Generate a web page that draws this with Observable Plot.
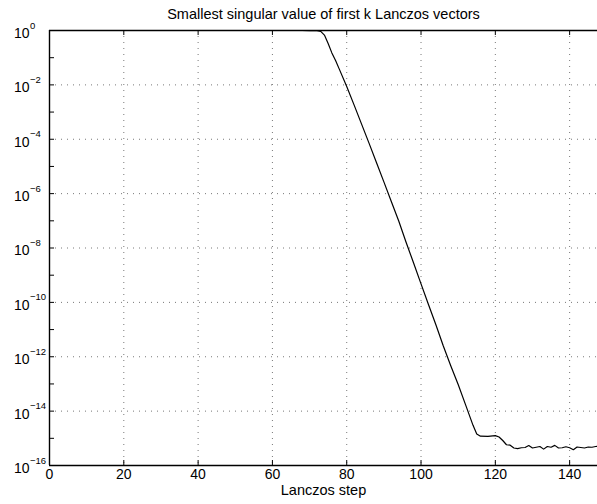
<!DOCTYPE html>
<html>
<head>
<meta charset="utf-8">
<script src="https://cdn.jsdelivr.net/npm/d3@7"></script>
<script src="https://cdn.jsdelivr.net/npm/@observablehq/plot@0.6"></script>
<style>
  html, body { margin: 0; padding: 0; background: #fff; }
</style>
</head>
<body>
<div id="chart"></div>
<script>
// Lanczos step k
const steps = [1, 68, 70, 72, 73, 74, 75, 76, 77, 78, 80, 82, 84, 86, 88, 90, 92, 94, 96, 98,
  100, 102, 104, 106, 108, 110, 112, 114, 115, 116, 118, 120, 121, 122, 123, 124, 125, 126,
  127, 128, 129, 130, 131, 132, 133, 134, 135, 136, 137, 138, 139, 140, 141, 142, 143, 144,
  145, 146, 147, 148, 149, 150];

// smallest singular value of the first k Lanczos vectors
const sigmaMin = [1, 1, 0.99, 0.98, 0.93, 0.68, 0.33, 0.15, 7.9e-2, 3.8e-2, 8.7e-3, 1.8e-3,
  3.6e-4, 7.2e-5, 1.4e-5, 2.7e-6, 5.1e-7, 9.8e-8, 1.6e-8, 2.8e-9,
  4.8e-10, 8.3e-11, 1.5e-11, 2.5e-12, 4.7e-13, 9.5e-14, 1.7e-14, 3.0e-15, 1.45e-15, 1.2e-15,
  1.17e-15, 1.26e-15, 1.12e-15, 8.3e-16, 5.8e-16, 5.6e-16, 4.4e-16, 4.2e-16,
  4.5e-16, 4.6e-16, 5.4e-16, 4.4e-16, 4.7e-16, 5.0e-16, 4.0e-16, 5.0e-16, 4.7e-16, 5.5e-16,
  4.4e-16, 4.5e-16, 4.9e-16, 4.5e-16, 3.8e-16, 4.8e-16, 4.6e-16, 4.4e-16,
  4.8e-16, 4.7e-16, 5.0e-16, 5.2e-16, 5.0e-16, 5.0e-16];

const xTicks = [0, 20, 40, 60, 80, 100, 120, 140];
const yTickExponents = [0, -2, -4, -6, -8, -10, -12, -14, -16];
const yDecadeExponents = d3.range(-15, 0);

const data = steps.map((k, i) => ({k, s: sigmaMin[i]}));
const yTicks = yTickExponents.map(e => ({e, v: Math.pow(10, e)}));
const decades = yDecadeExponents.map(e => Math.pow(10, e));

const W = 597, H = 504;
const mL = 49, mT = 30, mB = 39, mR = 0;
const frameW = W - mL - mR, frameH = H - mT - mB;
const tickLen = 5;
const gridStyle = {stroke: "#555", strokeWidth: 0.8, strokeDasharray: "1,5"};

const chart = Plot.plot({
  width: W,
  height: H,
  marginLeft: mL,
  marginRight: mR,
  marginTop: mT,
  marginBottom: mB,
  style: {fontFamily: "'Liberation Sans', Arial, Helvetica, sans-serif", fontSize: "14px", background: "#fff", color: "#000"},
  x: {domain: [0, 147.5], axis: null},
  y: {type: "log", domain: [1e-16, 1], axis: null},
  marks: [
    // dotted grid
    Plot.ruleX(xTicks.filter(d => d > 0), {x: d => d, ...gridStyle}),
    Plot.ruleY(yTicks.filter(d => d.e < 0 && d.e > -16), {y: "v", ...gridStyle}),
    // data line
    Plot.line(data, {x: "k", y: "s", stroke: "#000", strokeWidth: 1.2}),
    // axis lines (left, bottom, top)
    Plot.ruleX([0], {stroke: "#000", strokeWidth: 1.4}),
    Plot.ruleY([1e-16, 1], {stroke: "#000", strokeWidth: 1.4}),
    // inward ticks
    Plot.ruleX(xTicks, {x: d => d, insetTop: frameH - tickLen, stroke: "#000", strokeWidth: 1}),
    Plot.ruleX(xTicks, {x: d => d, insetBottom: frameH - tickLen, stroke: "#000", strokeWidth: 1}),
    Plot.ruleY(decades, {y: d => d, insetRight: frameW - tickLen, stroke: "#000", strokeWidth: 1}),
    // x tick labels
    Plot.text(xTicks, {x: d => d, text: d => String(d), frameAnchor: "bottom", dy: 13, fill: "#000", fontSize: 14}),
    // y tick labels: base and exponent
    Plot.text(yTicks, {y: "v", text: () => "10", frameAnchor: "left", dx: -20, dy: 3, textAnchor: "end", fill: "#000", fontSize: 14}),
    Plot.text(yTicks, {y: "v", text: d => d.e === 0 ? "0" : "\u2212" + Math.abs(d.e), frameAnchor: "left", dx: -19.5, dy: -5, textAnchor: "start", fill: "#000", fontSize: 9.5}),
    // title and axis label
    Plot.text(["Smallest singular value of first k Lanczos vectors"], {frameAnchor: "top", text: d => d, dy: -21.5, fill: "#000", fontSize: 14.5}),
    Plot.text(["Lanczos step"], {frameAnchor: "bottom", text: d => d, dy: 29, fill: "#000", fontSize: 14.5})
  ]
});

document.getElementById("chart").appendChild(chart);
</script>
</body>
</html>
